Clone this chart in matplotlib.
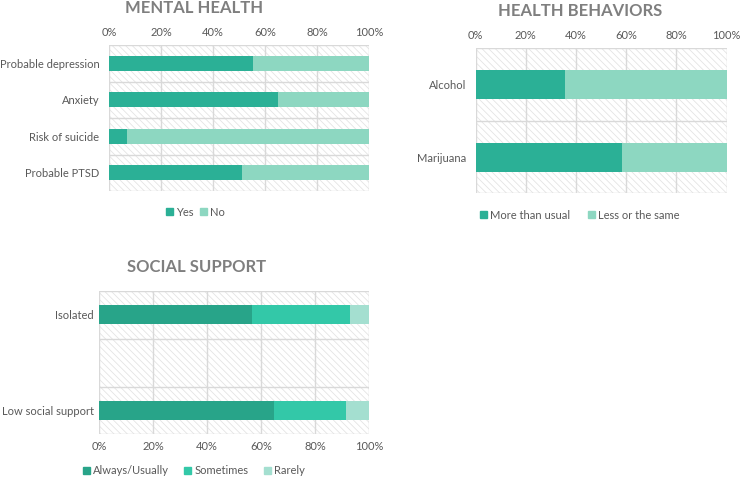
import matplotlib
matplotlib.use("Agg")
import matplotlib.pyplot as plt
from matplotlib.patches import Rectangle, Patch
from matplotlib.ticker import FixedLocator

plt.rcParams['font.family'] = ['Lato', 'DejaVu Sans']
plt.rcParams['hatch.linewidth'] = 0.6

# ---------------- data ----------------
mh_categories = ["Probable depression", "Anxiety", "Risk of suicide", "Probable PTSD"]
mh_yes = [55.2, 65.1, 7.1, 51.2]
mh_no = [44.8, 34.9, 92.9, 48.8]
mh_series = ["Yes", "No"]

hb_categories = ["Alcohol", "Marijuana"]
hb_more = [35.5, 58.4]
hb_less = [64.5, 41.6]
hb_series = ["More than usual", "Less or the same"]

ss_categories = ["Isolated", "", "Low social support"]
ss_always = [56.6, 0, 64.8]
ss_sometimes = [36.4, 0, 26.6]
ss_rarely = [7.0, 0, 8.6]
ss_series = ["Always/Usually", "Sometimes", "Rarely"]

tick_vals = [0, 20, 40, 60, 80, 100]
tick_labels = ["0%", "20%", "40%", "60%", "80%", "100%"]

C_DARK = "#2BB096"
C_LIGHT = "#8DD7C1"
SS_COLORS = ["#28A489", "#33C8A8", "#A4DFD0"]
TXT = "#595959"
TITLE = "#7F7F7F"
GRID = "#D9D9D9"
FS = 8

fig = plt.figure(figsize=(7.40, 4.78), dpi=100)


def style_axes(ax, ncat, top_ticks, ypad=7):
    ax.set_xlim(0, 100)
    ax.set_ylim(ncat - 0.5, -0.5)
    ax.add_patch(Rectangle((0, 0), 1, 1, transform=ax.transAxes, facecolor="white",
                           edgecolor="#E4E4E4", hatch="\\\\\\\\\\", lw=0, zorder=0))
    for v in tick_vals:
        ax.axvline(v, color=GRID, lw=1.0, zorder=0.5)
    for b in range(ncat + 1):
        ax.axhline(b - 0.5, color=GRID, lw=1.0, zorder=0.5)
    for s in ax.spines.values():
        s.set_visible(False)
    ax.xaxis.set_major_locator(FixedLocator(tick_vals))
    ax.set_xticklabels(tick_labels)
    if top_ticks:
        ax.xaxis.tick_top()
    ax.tick_params(axis='x', length=0, labelsize=FS, colors=TXT, pad=5)
    ax.tick_params(axis='y', length=0, labelsize=FS, colors=TXT, pad=ypad)


def stack(ax, cats, series_vals, colors):
    y = list(range(len(cats)))
    left = [0] * len(cats)
    for vals, c in zip(series_vals, colors):
        ax.barh(y, vals, left=left, height=0.4, color=c, zorder=2, lw=0)
        left = [a + b for a, b in zip(left, vals)]
    ax.set_yticks(y)
    ax.set_yticklabels(cats)


def legend(handles, anchor, spacing):
    fig.legend(handles=handles, loc="center", bbox_to_anchor=anchor, ncol=len(handles),
               frameon=False, fontsize=FS, labelcolor=TXT, handlelength=0.6,
               handleheight=0.6, handletextpad=0.3, columnspacing=spacing)


# Mental health
ax1 = fig.add_axes([0.1473, 0.6004, 0.3514, 0.3054])
style_axes(ax1, len(mh_categories), True)
stack(ax1, mh_categories, [mh_yes, mh_no], [C_DARK, C_LIGHT])
fig.text(0.262, 0.983, "MENTAL HEALTH", ha="center", va="center", fontsize=12,
         fontweight="bold", color=TITLE)
legend([Patch(color=C_DARK, label=mh_series[0]),
        Patch(color=C_LIGHT, label=mh_series[1])], (0.264, 0.556), 0.6)

# Health behaviors
ax2 = fig.add_axes([0.6428, 0.5956, 0.3392, 0.3033])
style_axes(ax2, len(hb_categories), True)
stack(ax2, hb_categories, [hb_more, hb_less], [C_DARK, C_LIGHT])
fig.text(0.784, 0.976, "HEALTH BEHAVIORS", ha="center", va="center", fontsize=12,
         fontweight="bold", color=TITLE)
legend([Patch(color=C_DARK, label=hb_series[0]),
        Patch(color=C_LIGHT, label=hb_series[1])], (0.784, 0.550), 1.6)

# Social support
ax3 = fig.add_axes([0.1342, 0.0914, 0.3645, 0.2998])
style_axes(ax3, len(ss_categories), False, ypad=4)
stack(ax3, ss_categories, [ss_always, ss_sometimes, ss_rarely], SS_COLORS)
fig.text(0.265, 0.441, "SOCIAL SUPPORT", ha="center", va="center", fontsize=12,
         fontweight="bold", color=TITLE)
legend([Patch(color=c, label=l) for c, l in zip(SS_COLORS, ss_series)],
       (0.262, 0.015), 1.4)

fig.savefig("out.png", dpi=100)
